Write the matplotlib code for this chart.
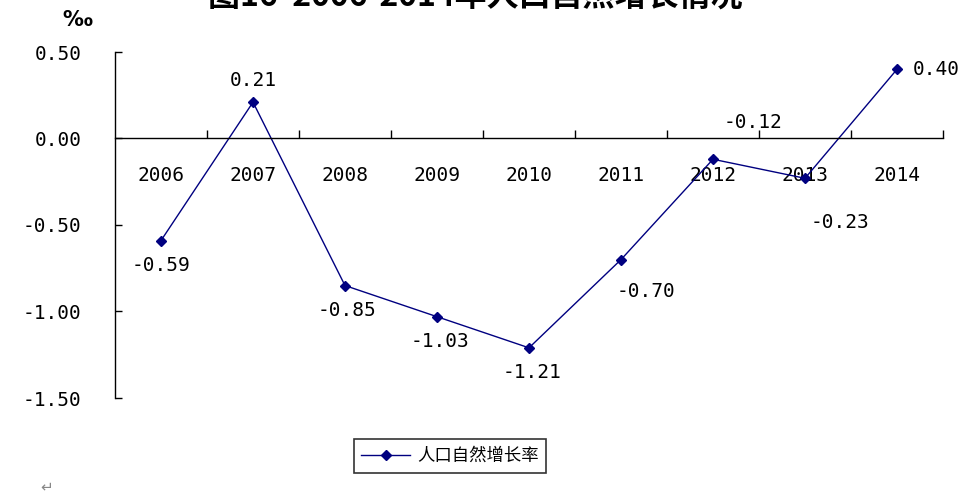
import matplotlib
matplotlib.use("Agg")
import matplotlib.pyplot as plt
import numpy as np

# data
years = ["2006", "2007", "2008", "2009", "2010", "2011", "2012", "2013", "2014"]
rate = [-0.59, 0.21, -0.85, -1.03, -1.21, -0.70, -0.12, -0.23, 0.40]
yticks = [0.50, 0.00, -0.50, -1.00, -1.50]
# label offsets (pixels) for each data label
lbl_dx = [0, 0, 2, 3, 3, 25, 40, 35, 16]
lbl_dy = [-25, 22, -25, -25, -25, -32, 37, -44, 0]
lbl_ha = ["center"] * 8 + ["left"]

W, H = 967, 498
navy = "#000080"
mono = ["DejaVu Sans Mono", "Noto Sans CJK SC"]
cjk = ["Noto Sans CJK SC", "DejaVu Sans"]

fig = plt.figure(figsize=(W / 100, H / 100), dpi=100)
ax = fig.add_axes([115 / W, 1 - 398 / H, (943 - 115) / W, (398 - 52) / H])

x = np.arange(len(years)) + 0.5
ax.plot(x, rate, color=navy, lw=1.0, marker="D", ms=5.5, mfc=navy, mec=navy)

ax.set_xlim(0, len(years))
ax.set_ylim(-1.5, 0.5)

for s in ["top", "right"]:
    ax.spines[s].set_visible(False)
ax.spines["bottom"].set_position(("data", 0))
ax.spines["bottom"].set_linewidth(1.0)
ax.spines["left"].set_linewidth(1.0)

ax.set_xticks(x)
ax.set_xticklabels(years, family=mono, fontsize=14)
ax.set_xticks(np.arange(1, len(years) + 1), minor=True)
ax.tick_params(axis="x", which="major", length=0, pad=20)
ax.tick_params(axis="x", which="minor", direction="in", length=6, width=1)

ax.set_yticks(yticks)
ax.set_yticklabels(["%.2f" % v for v in yticks], family=mono, fontsize=14)
ax.tick_params(axis="y", direction="in", length=5, width=1, pad=24)

for xi, v, dx, dy, ha in zip(x, rate, lbl_dx, lbl_dy, lbl_ha):
    ax.annotate("%.2f" % v, (xi, v), xytext=(dx * 0.72, dy * 0.72),
                textcoords="offset points", ha=ha, va="center",
                family=mono, fontsize=14)

# unit sign
fig.text(77 / W, 1 - 20 / H, "‰", family=["DejaVu Sans", "Noto Sans CJK SC"],
         fontsize=15, ha="center", va="center", fontweight="bold")

# title, cut by the top edge as in the source
fig.text(475 / W, 1 - 14 / H, "图16  2006-2014年人口自然增长情况", family=cjk,
         fontsize=23, fontweight="bold", ha="center", va="bottom")

leg = fig.legend(["人口自然增长率"], loc="center",
                 bbox_to_anchor=(450 / W, 1 - 456 / H),
                 prop={"family": cjk, "size": 12.5}, frameon=True, fancybox=False,
                 edgecolor="black", handlelength=2.8, borderpad=0.45,
                 handletextpad=0.4)
leg.get_frame().set_linewidth(1.2)

fig.text(47 / W, 1 - 487 / H, "↵", color="#888888", fontsize=11,
         ha="center", va="center")

fig.savefig("out.png", dpi=100)
